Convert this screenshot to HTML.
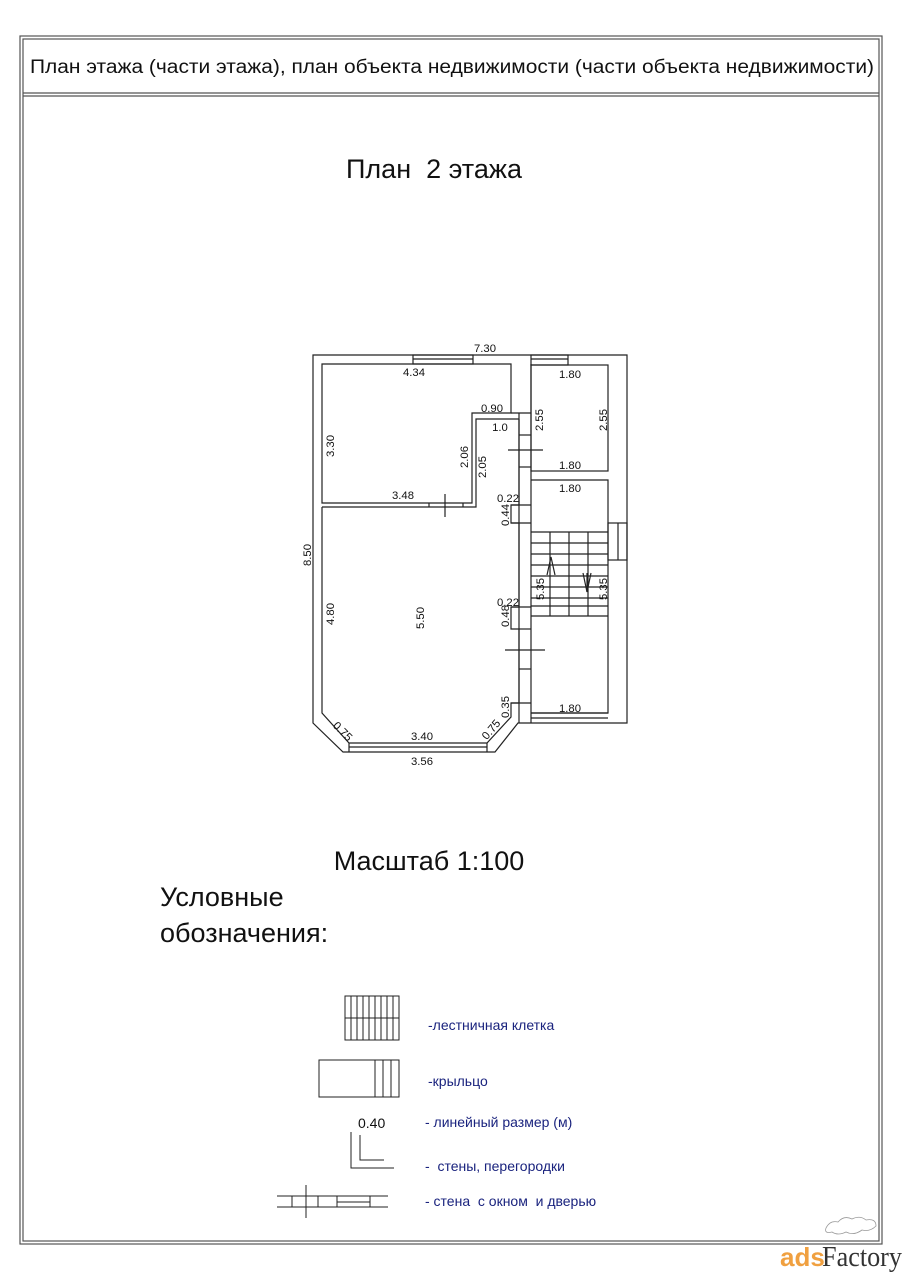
<!DOCTYPE html>
<html><head><meta charset="utf-8"><style>
body{margin:0;background:#fff;}
svg{display:block;font-family:"Liberation Sans","DejaVu Sans",sans-serif;}
</style></head><body>
<svg width="904" height="1280" viewBox="0 0 904 1280" xmlns="http://www.w3.org/2000/svg">
<rect width="904" height="1280" fill="#fff"/>
<g fill="none" stroke="#555" stroke-width="1.2">
<rect x="20" y="36" width="862" height="1208"/>
<rect x="23" y="39" width="856" height="1202"/>
<line x1="23" y1="93" x2="879" y2="93"/><line x1="23" y1="96" x2="879" y2="96"/>
</g>
<text x="452" y="73" font-size="19.3" text-anchor="middle" fill="#111" textLength="844" lengthAdjust="spacingAndGlyphs">План этажа (части этажа), план объекта недвижимости (части объекта недвижимости)</text>
<text x="434" y="178" font-size="27" text-anchor="middle" fill="#111" xml:space="preserve">План  2 этажа</text>

<g fill="none" stroke="#222" stroke-width="1.2">
<path d="M313,355 H627 V723 H518 L495,752 H343 L313,723 Z"/>
<path d="M322,503 V364 H511 V413 H472 V503 Z"/>
<path d="M322,507 H476 V419 H519"/>
<line x1="511" y1="413" x2="531" y2="413"/>
<path d="M322,507 V713 L349,743 H487 L511,717 V703 H519 V629 H511 V607 H519 V523 H511 V505 H519 V419"/>
<line x1="519" y1="413" x2="519" y2="723"/>
<line x1="531" y1="364" x2="531" y2="723"/>
<line x1="519" y1="435" x2="531" y2="435"/><line x1="519" y1="467" x2="531" y2="467"/>
<line x1="508" y1="450" x2="543" y2="450"/>
<line x1="519" y1="629" x2="531" y2="629"/><line x1="519" y1="669" x2="531" y2="669"/>
<line x1="505" y1="650" x2="545" y2="650"/>
<line x1="511" y1="505" x2="531" y2="505"/><line x1="511" y1="523" x2="531" y2="523"/>
<line x1="511" y1="607" x2="531" y2="607"/><line x1="511" y1="703" x2="531" y2="703"/>
<rect x="531" y="365" width="77" height="106"/>
<path d="M531,480 H608 V713 H531"/>
<line x1="531" y1="532" x2="608" y2="532"/>
<line x1="531" y1="543" x2="608" y2="543"/><line x1="531" y1="554" x2="608" y2="554"/>
<line x1="531" y1="565" x2="608" y2="565"/><line x1="531" y1="576" x2="608" y2="576"/>
<line x1="531" y1="587" x2="608" y2="587"/><line x1="531" y1="598" x2="608" y2="598"/>
<line x1="531" y1="606" x2="608" y2="606"/><line x1="531" y1="616" x2="608" y2="616"/>
<line x1="550" y1="532" x2="550" y2="616"/><line x1="569" y1="532" x2="569" y2="616"/><line x1="588" y1="532" x2="588" y2="616"/>
<path d="M547,575 L551,557 L555,575"/><path d="M583,573 L587,592 L591,573"/><line x1="587" y1="573" x2="587" y2="592"/>
<rect x="413" y="355" width="60" height="9"/><line x1="413" y1="359" x2="473" y2="359"/>
<rect x="531" y="355" width="37" height="10"/><line x1="531" y1="359" x2="568" y2="359"/>
<line x1="531" y1="713" x2="608" y2="713"/><line x1="531" y1="718" x2="608" y2="718"/>
<line x1="349" y1="747" x2="487" y2="747"/><line x1="349" y1="743" x2="349" y2="752"/><line x1="487" y1="743" x2="487" y2="752"/>
<rect x="608" y="523" width="19" height="37"/><line x1="618" y1="523" x2="618" y2="560"/>
<line x1="429" y1="503" x2="429" y2="507"/><line x1="463" y1="503" x2="463" y2="507"/>
<line x1="445" y1="494" x2="445" y2="517"/>
</g>

<g font-size="11.3" fill="#111">
<text x="485" y="352" text-anchor="middle">7.30</text>
<text x="414" y="376" text-anchor="middle">4.34</text>
<text x="570" y="378" text-anchor="middle">1.80</text>
<text x="492" y="412" text-anchor="middle">0.90</text>
<text x="500" y="431" text-anchor="middle">1.0</text>
<text x="570" y="469" text-anchor="middle">1.80</text>
<text x="570" y="492" text-anchor="middle">1.80</text>
<text x="403" y="499" text-anchor="middle">3.48</text>
<text x="508" y="502" text-anchor="middle">0.22</text>
<text x="508" y="606" text-anchor="middle">0.22</text>
<text x="570" y="712" text-anchor="middle">1.80</text>
<text x="422" y="740" text-anchor="middle">3.40</text>
<text x="422" y="765" text-anchor="middle">3.56</text>
<text transform="translate(334,446) rotate(-90)" text-anchor="middle">3.30</text>
<text transform="translate(468,457) rotate(-90)" text-anchor="middle">2.06</text>
<text transform="translate(486,467) rotate(-90)" text-anchor="middle">2.05</text>
<text transform="translate(543,420) rotate(-90)" text-anchor="middle">2.55</text>
<text transform="translate(607,420) rotate(-90)" text-anchor="middle">2.55</text>
<text transform="translate(509,515) rotate(-90)" text-anchor="middle">0.44</text>
<text transform="translate(544,589) rotate(-90)" text-anchor="middle">5.35</text>
<text transform="translate(607,589) rotate(-90)" text-anchor="middle">5.35</text>
<text transform="translate(509,616) rotate(-90)" text-anchor="middle">0.48</text>
<text transform="translate(509,707) rotate(-90)" text-anchor="middle">0.35</text>
<text transform="translate(311,555) rotate(-90)" text-anchor="middle">8.50</text>
<text transform="translate(334,614) rotate(-90)" text-anchor="middle">4.80</text>
<text transform="translate(424,618) rotate(-90)" text-anchor="middle">5.50</text>
<text transform="translate(340,734) rotate(45)" text-anchor="middle">0.75</text>
<text transform="translate(494,732) rotate(-50)" text-anchor="middle">0.75</text>
</g>

<text x="429" y="870" font-size="27" text-anchor="middle" fill="#111">Масштаб 1:100</text>
<text x="160" y="906" font-size="27" fill="#111">Условные</text>
<text x="160" y="942" font-size="27" fill="#111">обозначения:</text>

<g fill="none" stroke="#222" stroke-width="1">
<rect x="345" y="996" width="54" height="44"/><line x1="345" y1="1018" x2="399" y2="1018"/>
<path d="M351,996V1040M357,996V1040M363,996V1040M369,996V1040M375,996V1040M381,996V1040M387,996V1040M393,996V1040"/>
<rect x="319" y="1060" width="80" height="37"/>
<path d="M375,1060V1097M383,1060V1097M391,1060V1097"/>
<path d="M351,1132V1168H394M360,1135V1160H384"/>
<path d="M277,1196H388M277,1207H388M306,1185V1218M292,1196V1207M318,1196V1207M337,1196V1207M370,1196V1207M337,1202H370"/>
</g>
<g font-size="14" fill="#1a237e">
<text x="428" y="1030">-лестничная клетка</text>
<text x="428" y="1086">-крыльцо</text>
<text x="425" y="1127">- линейный размер (м)</text>
<text x="425" y="1171" xml:space="preserve">-  стены, перегородки</text>
<text x="425" y="1206" xml:space="preserve">- стена  с окном  и дверью</text>
</g>
<text x="358" y="1128" font-size="14" fill="#111">0.40</text>

<path d="M826,1228 q4,-8 12,-6 q6,-7 14,-3 q8,-4 14,1 q10,-2 10,6 q-6,6 -14,4 q-8,6 -16,2 q-8,4 -14,0 q-8,2 -6,-4" fill="none" stroke="#999" stroke-width="0.8"/>
<text x="780" y="1266" font-size="26" font-weight="bold" fill="#f0a040">ads</text>
<text x="822" y="1266" font-size="28" fill="#333" font-family="Liberation Serif,serif" textLength="80" lengthAdjust="spacingAndGlyphs">Factory</text>
</svg>
</body></html>
